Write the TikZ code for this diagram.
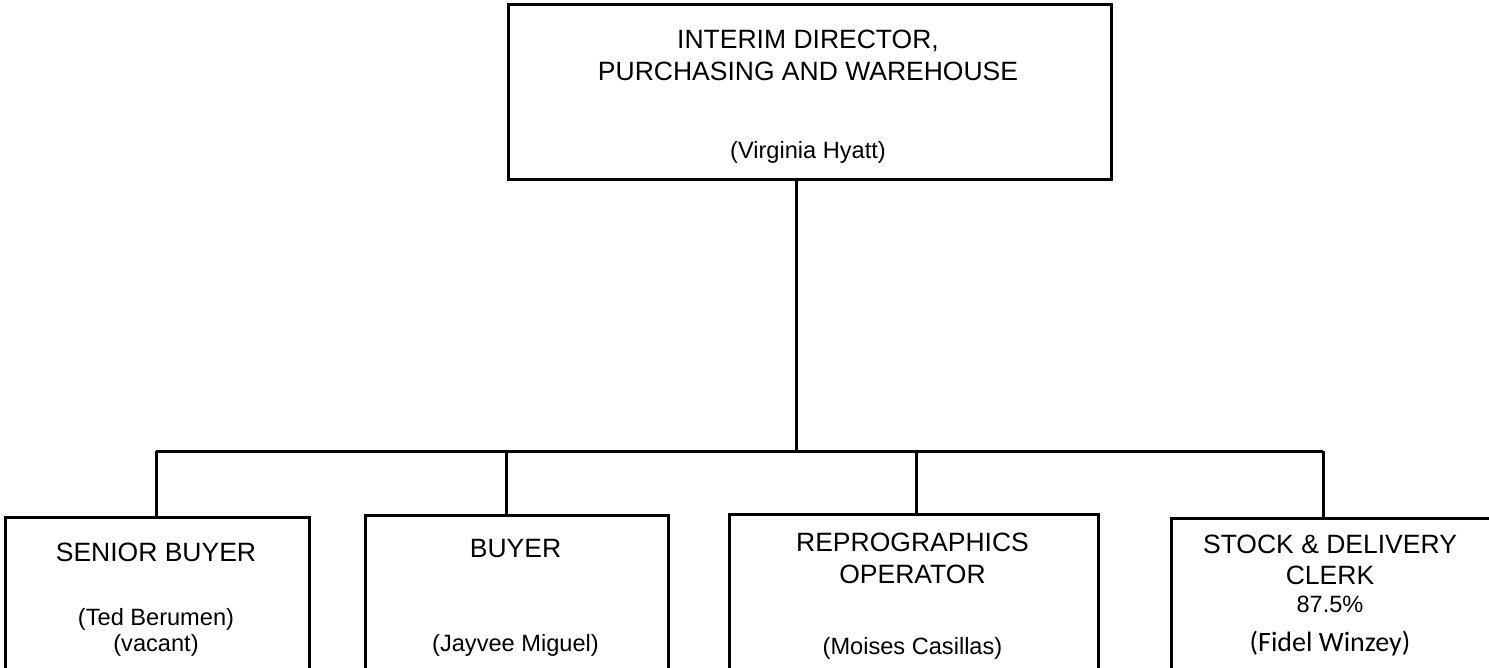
\documentclass[tikz,border=0pt]{standalone}
\usepackage{fontspec}
\setmainfont{Liberation Sans}
\newfontfamily\calfont{Carlito}
\begin{document}
\begin{tikzpicture}[x=1pt,y=-1pt,
  box/.style={draw=black,line width=3pt,rectangle,inner sep=0pt,anchor=north west},
  conn/.style={draw=black,line width=3pt},
  ttl/.style={font=\fontsize{26.5}{31}\selectfont,anchor=base,inner sep=0pt},
  nm/.style={font=\fontsize{23.6}{27}\selectfont,anchor=base,inner sep=0pt},
  cal/.style={font=\calfont\fontsize{28}{32}\selectfont,anchor=base,inner sep=0pt}]
\useasboundingbox (0,0) rectangle (1489,667);
\clip (0,0) rectangle (1489,667);
\fill[white] (0,0) rectangle (1489,667);
% boxes
\node[box,minimum width=603pt,minimum height=175pt] (top) at (507,3) {};
\node[box,minimum width=304pt,minimum height=200pt] (b1) at (4,516) {};
\node[box,minimum width=303pt,minimum height=200pt] (b2) at (364,514) {};
\node[box,minimum width=369pt,minimum height=200pt] (b3) at (728,513) {};
\node[box,minimum width=322pt,minimum height=200pt] (b4) at (1170,517) {};
% texts
\node[ttl] (t1) at (808,48) {INTERIM DIRECTOR,};
\node[ttl] (t2) at (808,80) {PURCHASING AND WAREHOUSE};
\node[nm] (t3) at (808,158) {(Virginia Hyatt)};
\node[ttl] (s1) at (156,561) {SENIOR BUYER};
\node[nm] (s2) at (156,625) {(Ted Berumen)};
\node[nm] (s3) at (156,651) {(vacant)};
\node[ttl] (u1) at (515.5,557) {BUYER};
\node[nm] (u2) at (515.5,651) {(Jayvee Miguel)};
\node[ttl] (r1) at (912.5,551) {REPROGRAPHICS};
\node[ttl] (r2) at (912.5,583) {OPERATOR};
\node[nm] (r3) at (912.5,654) {(Moises Casillas)};
\node[ttl] (c1) at (1330,553) {STOCK \& DELIVERY};
\node[ttl] (c2) at (1330,584) {CLERK};
\node[nm] (c3) at (1330,612) {87.5\%};
\node[cal] (c4) at (1330,651) {(Fidel Winzey)};
% connectors
\coordinate (hub) at (796,451);
\coordinate (j1) at (156,451);
\coordinate (j2) at (506,451);
\coordinate (j3) at (916,451);
\coordinate (j4) at (1323,451);
\draw[conn] (top.south -| hub) -- (hub);
\draw[conn] (j1) -- (j4);
\draw[conn] (j1) -- (j1 |- b1.north);
\draw[conn] (j2) -- (j2 |- b2.north);
\draw[conn] (j3) -- (j3 |- b3.north);
\draw[conn] (j4) -- (j4 |- b4.north);
\end{tikzpicture}
\end{document}
